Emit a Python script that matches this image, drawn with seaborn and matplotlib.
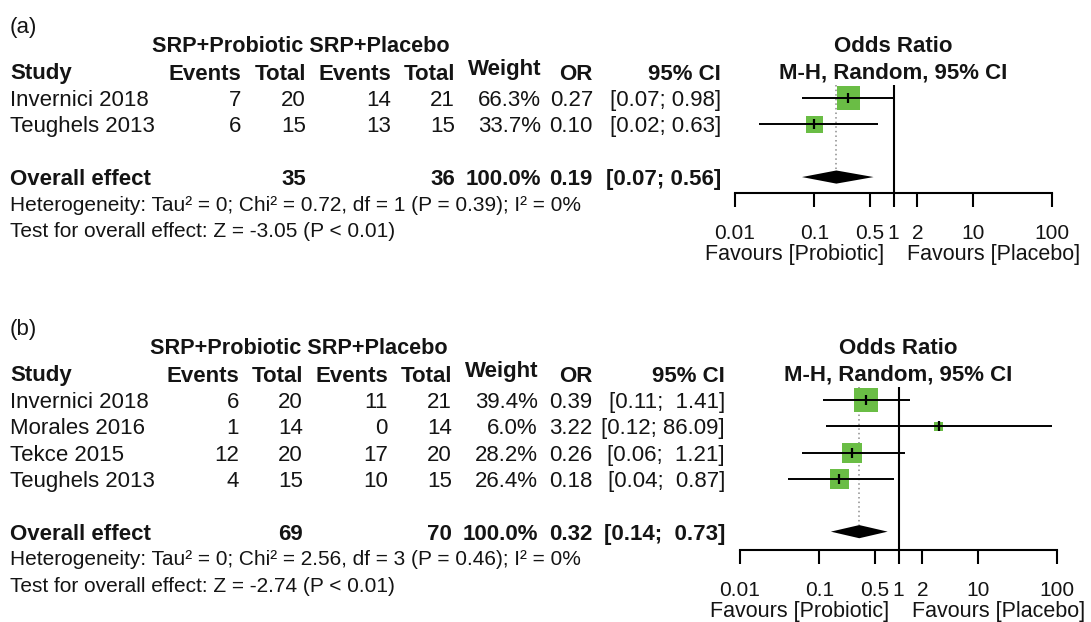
import matplotlib
matplotlib.use("Agg")
import matplotlib.pyplot as plt
import matplotlib.transforms as mtransforms
import numpy as np
import pandas as pd
import seaborn as sns

# ---- panel (a) data ----
studies_a = ["Invernici 2018", "Teughels 2013"]
ev_pro_a = [7, 6]
tot_pro_a = [20, 15]
ev_pla_a = [14, 13]
tot_pla_a = [21, 15]
weight_a = [66.3, 33.7]
or_a = [0.27, 0.10]
lo_a = [0.07, 0.02]
hi_a = [0.98, 0.63]
overall_a = [0.19, 0.07, 0.56]
total_a = [35, 36]
het_a = "Heterogeneity: Tau\u00b2 = 0; Chi\u00b2 = 0.72, df = 1 (P = 0.39); I\u00b2 = 0%"
test_a = "Test for overall effect: Z = -3.05 (P < 0.01)"

# ---- panel (b) data ----
studies_b = ["Invernici 2018", "Morales 2016", "Tekce 2015", "Teughels 2013"]
ev_pro_b = [6, 1, 12, 4]
tot_pro_b = [20, 14, 20, 15]
ev_pla_b = [11, 0, 17, 10]
tot_pla_b = [21, 14, 20, 15]
weight_b = [39.4, 6.0, 28.2, 26.4]
or_b = [0.39, 3.22, 0.26, 0.18]
lo_b = [0.11, 0.12, 0.06, 0.04]
hi_b = [1.41, 86.09, 1.21, 0.87]
overall_b = [0.32, 0.14, 0.73]
total_b = [69, 70]
het_b = "Heterogeneity: Tau\u00b2 = 0; Chi\u00b2 = 2.56, df = 3 (P = 0.46); I\u00b2 = 0%"
test_b = "Test for overall effect: Z = -2.74 (P < 0.01)"

group_labels = ["SRP+Probiotic", "SRP+Placebo"]
x_ticks = [0.01, 0.1, 0.5, 1, 2, 10, 100]
x_tick_labels = ["0.01", "0.1", "0.5", "1", "2", "10", "100"]

sns.set_theme(style="white")
plt.rcParams["font.family"] = ["Liberation Sans", "DejaVu Sans"]
plt.rcParams["text.color"] = "#141414"

W, H = 1091, 622
fig = plt.figure(figsize=(W / 100, H / 100), dpi=100)
fig.patch.set_facecolor("white")

GREEN = "#6abd45"
FS = 16
FS_STAT = 15
ROW_PX = 26.3


def px_axes(left, top, right, bottom):
    return fig.add_axes([left / W, 1 - bottom / H, (right - left) / W, (bottom - top) / H])


def fmt_ci(lo, hi, width):
    return "[{:.2f}; {}]".format(lo, "{:.2f}".format(hi).rjust(width))


def panel(tag, box, cols, studies, ev_pro, tot_pro, ev_pla, tot_pla,
          weight, ors, los, his, overall, totals, het, test):
    left, top, right, bottom = box
    n = len(studies)
    ax = px_axes(left, top, right, bottom)
    ymax = -0.5 + (bottom - top) / ROW_PX
    ax.set_xscale("log")
    ax.set_xlim(0.01, 100)
    ax.set_ylim(ymax, -0.5)
    ax.patch.set_alpha(0)

    rows = np.arange(n)
    r_all = n + 1
    df = pd.DataFrame({"OR": ors, "row": rows, "weight": weight})

    # pooled estimate reference (dotted) and null line
    ax.vlines(overall[0], -0.5, r_all - 0.25, color="#8c8c8c", ls=(0, (1, 2)), lw=1.1, zorder=1)
    ax.axvline(1, color="black", lw=1.5, zorder=1)

    # study squares, area proportional to weight
    sns.scatterplot(data=df, x="OR", y="row", size="weight", sizes=(0, 290),
                    size_norm=(0, max(weight)), marker="s", color=GREEN,
                    linewidth=0, legend=False, ax=ax, zorder=2)
    ax.hlines(rows, los, his, color="black", lw=1.4, zorder=3)
    ax.plot(ors, rows, ls="none", marker="|", ms=7, mew=1.6, color="black", zorder=4)

    # pooled diamond
    est, lo, hi = overall
    ax.fill([lo, est, hi, est], [r_all, r_all - 0.25, r_all, r_all + 0.25],
            color="black", lw=0, zorder=3)

    for s in ["top", "left", "right"]:
        ax.spines[s].set_visible(False)
    ax.spines["bottom"].set_linewidth(1.5)
    ax.spines["bottom"].set_color("black")
    ax.set_xticks(x_ticks)
    ax.set_xticklabels(x_tick_labels)
    ax.xaxis.set_minor_locator(matplotlib.ticker.NullLocator())
    ax.tick_params(axis="x", which="major", direction="out", length=10, width=1.5,
                   color="black", labelsize=15, pad=12, labelcolor="#141414", bottom=True)
    ax.set_yticks([])
    ax.set_xlabel("")
    ax.set_ylabel("")

    # favours labels
    ax.annotate("Favours [Probiotic]", xy=(1, 0), xycoords=("data", "axes fraction"),
                xytext=(-7, -44), textcoords="offset points", ha="right", va="center",
                fontsize=15.5)
    ax.annotate("Favours [Placebo]", xy=(1, 0), xycoords=("data", "axes fraction"),
                xytext=(10, -44), textcoords="offset points", ha="left", va="center",
                fontsize=15.5)

    # column titles over the plot
    tr_ax = mtransforms.blended_transform_factory(ax.transAxes, ax.transData)
    ax.text(0.5, -2.05, "Odds Ratio", transform=tr_ax, ha="center", va="center_baseline",
            fontsize=FS, fontweight="bold", clip_on=False)
    ax.text(0.5, -1.05, "M-H, Random, 95% CI", transform=tr_ax, ha="center",
            va="center_baseline", fontsize=FS, fontweight="bold", clip_on=False)

    # table text, rows share the plot's y scale
    tr = mtransforms.blended_transform_factory(fig.transFigure, ax.transData)

    def t(xpx, row, s, ha="right", bold=False, dy=0.0, size=FS):
        fig.text(xpx / W, row + dy, s, transform=tr, ha=ha, va="center_baseline",
                 fontsize=size, fontweight="bold" if bold else "normal")

    c_ev1, c_to1, c_ev2, c_to2, c_w, c_or, c_ci, g_l = cols
    t(10, -2.8, tag, ha="left")
    t(g_l, -2.05, " ".join(group_labels), ha="left", bold=True, size=15.6)
    t(10, -1.05, "Study", ha="left", bold=True)
    t(c_ev1, -1.0, "Events", bold=True)
    t(c_to1, -1.0, "Total", bold=True)
    t(c_ev2, -1.0, "Events", bold=True)
    t(c_to2, -1.0, "Total", bold=True)
    t(c_w, -1.18, "Weight", bold=True)
    t(c_or, -1.0, "OR", bold=True)
    t(c_ci, -1.0, "95% CI", bold=True)

    width = max(len("{:.2f}".format(h)) for h in list(his) + [overall[2]])
    for i in range(n):
        t(10, i, studies[i], ha="left")
        t(c_ev1, i, str(ev_pro[i]))
        t(c_to1, i, str(tot_pro[i]))
        t(c_ev2, i, str(ev_pla[i]))
        t(c_to2, i, str(tot_pla[i]))
        t(c_w, i, "{:.1f}%".format(weight[i]))
        t(c_or, i, "{:.2f}".format(ors[i]))
        t(c_ci, i, fmt_ci(los[i], his[i], width))

    t(10, r_all, "Overall effect", ha="left", bold=True)
    t(c_to1, r_all, str(totals[0]), bold=True)
    t(c_to2, r_all, str(totals[1]), bold=True)
    t(c_w, r_all, "{:.1f}%".format(sum(weight)), bold=True)
    t(c_or, r_all, "{:.2f}".format(est), bold=True)
    t(c_ci, r_all, fmt_ci(lo, hi, width), bold=True)
    t(10, r_all + 1, het, ha="left", size=FS_STAT)
    t(10, r_all + 2, test, ha="left", size=FS_STAT)
    return ax


panel("(a)", (735, 85, 1052, 193), (241, 306, 391, 455, 541, 593, 721, 152),
      studies_a, ev_pro_a, tot_pro_a, ev_pla_a, tot_pla_a, weight_a, or_a, lo_a, hi_a,
      overall_a, total_a, het_a, test_a)
panel("(b)", (740, 387, 1057, 550), (239, 303, 388, 452, 538, 592, 725, 150),
      studies_b, ev_pro_b, tot_pro_b, ev_pla_b, tot_pla_b, weight_b, or_b, lo_b, hi_b,
      overall_b, total_b, het_b, test_b)

fig.savefig("out.png", dpi=100, facecolor="white")
